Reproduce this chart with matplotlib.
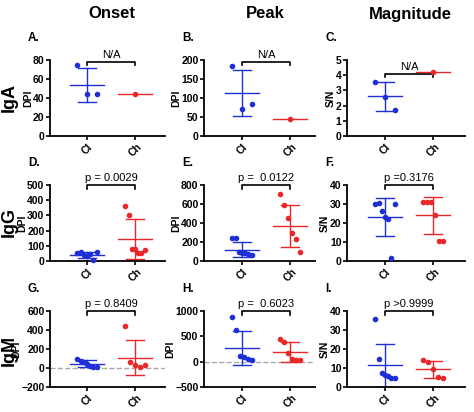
import numpy as np
import matplotlib
matplotlib.use('Agg')
import matplotlib.pyplot as plt

groups = ['Cl', 'Ch']
letters = ['A.', 'B.', 'C.', 'D.', 'E.', 'F.', 'G.', 'H.', 'I.']
pvals = ['N/A', 'N/A', 'N/A', 'p = 0.0029', 'p =  0.0122', 'p =0.3176',
         'p = 0.8409', 'p =  0.6023', 'p >0.9999']
ylabels = ['DPI', 'DPI', 'S/N'] * 3

cl_vals = [[75, 44, 44], [184, 72, 84], [3.55, 2.55, 1.7],
           [55, 60, 40, 35, 45, 5, 60], [240, 240, 100, 80, 80, 70, 60],
           [30, 30.5, 26.5, 23, 22, 1.5, 30],
           [90, 75, 60, 45, 20, 10, 10], [880, 620, 120, 100, 60, 40],
           [36, 15, 7.5, 6.5, 6, 5, 4.5]]
ch_vals = [[44], [44], [4.2],
           [365, 300, 80, 80, 55, 55, 75], [700, 590, 450, 300, 230, 100],
           [31, 31, 31, 24, 10.5, 10.5],
           [440, 60, 30, 10, 30], [440, 390, 180, 60, 40, 40],
           [14, 13, 9.5, 5.5, 4.5]]
cl_mean = [54, 113, 2.6, 42, 120, 23.2, 45, 275, 11.5]
cl_sd = [18, 61, 0.95, 20, 82, 10.2, 35, 340, 11.3]
ch_mean = [44, 44, 4.2, 147, 365, 24, 110, 185, 9.3]
ch_sd = [0, 0, 0, 132, 220, 9.8, 185, 200, 4.3]

ylims = [(0, 80), (0, 200), (0, 5), (0, 500), (0, 800), (0, 40),
         (-200, 600), (-500, 1000), (0, 40)]
yticks = [[0, 20, 40, 60, 80], [0, 50, 100, 150, 200], [0, 1, 2, 3, 4, 5],
          [0, 100, 200, 300, 400, 500], [0, 200, 400, 600, 800],
          [0, 10, 20, 30, 40], [-200, 0, 200, 400, 600],
          [-500, 0, 500, 1000], [0, 10, 20, 30, 40]]
bracket_y = [0.98, 0.98, 0.82, 1.0, 1.0, 1.0, 1.0, 1.0, 1.0]

W, H = 474, 412
col_px = [(50, 165, 87), (204, 315, 242), (347, 465, 385)]
row_px = [(60, 136), (185, 261), (311, 387)]
spacing = 48

fig = plt.figure(figsize=(W / 100, H / 100), dpi=100)
plt.rcParams['font.family'] = ['Liberation Sans', 'DejaVu Sans']

for i in range(9):
    r, c = divmod(i, 3)
    l, rr, clx = col_px[c]
    t, b = row_px[r]
    ax = fig.add_axes([l / W, 1 - b / H, (rr - l) / W, (b - t) / H])
    ax.set_xlim(-(clx - l) / spacing, (rr - clx) / spacing)
    ax.set_ylim(*ylims[i])
    ax.set_yticks(yticks[i])
    for s in ['top', 'right']:
        ax.spines[s].set_visible(False)
    for s in ['left', 'bottom']:
        ax.spines[s].set_linewidth(1.3)
    ax.tick_params(labelsize=7.5, width=1.2, length=3, pad=1)
    for lab in ax.get_yticklabels():
        lab.set_fontweight('bold')
    ax.set_xticks([0, 1])
    ax.set_xticklabels(groups, rotation=45, fontweight='bold', fontsize=7.5)
    ax.set_ylabel(ylabels[i], fontsize=7.5, fontweight='bold', labelpad=0)
    if ylims[i][0] < 0:
        ax.axhline(0, color='#aaaaaa', lw=1, ls='--', zorder=0)

    for k, (vals, m, sd, col) in enumerate([
            (cl_vals[i], cl_mean[i], cl_sd[i], '#1f2fd6'),
            (ch_vals[i], ch_mean[i], ch_sd[i], '#e8282b')]):
        n = len(vals)
        xs = k + np.linspace(-0.2, 0.2, n) if n > 1 else [k]
        ax.scatter(xs, vals, s=9, color=col, zorder=3, clip_on=False)
        ax.plot([k - 0.35, k + 0.35], [m, m], color=col, lw=1)
        if sd > 0:
            ax.plot([k, k], [m - sd, m + sd], color=col, lw=1)
            ax.plot([k - 0.18, k + 0.18], [m + sd] * 2, color=col, lw=1)
            ax.plot([k - 0.18, k + 0.18], [m - sd] * 2, color=col, lw=1)

    ylo, yhi = ylims[i]
    by = ylo + bracket_y[i] * (yhi - ylo)
    tk = 0.05 * (yhi - ylo)
    ax.plot([0, 0, 1, 1], [by - tk, by, by, by - tk], color='black', lw=1.2,
            clip_on=False)
    ax.text(0.5, by + 0.02 * (yhi - ylo), pvals[i], ha='center', va='bottom',
            fontsize=8)
    ax.text((l - 22) / W, 1 - (t - 22) / H, letters[i],
            transform=fig.transFigure, fontsize=8.5, fontweight='bold',
            ha='left', va='center')

for name, x in zip(['Onset', 'Peak', 'Magnitude'], [112, 265, 410]):
    fig.text(x / W, 1 - 14 / H, name, ha='center', va='center',
             fontsize=12, fontweight='bold')
for name, y in zip(['IgA', 'IgG', 'IgM'], [97, 222, 350]):
    fig.text(9 / W, 1 - y / H, name, ha='center', va='center',
             fontsize=13, fontweight='bold', rotation=90)

fig.savefig('out.png', dpi=100)
